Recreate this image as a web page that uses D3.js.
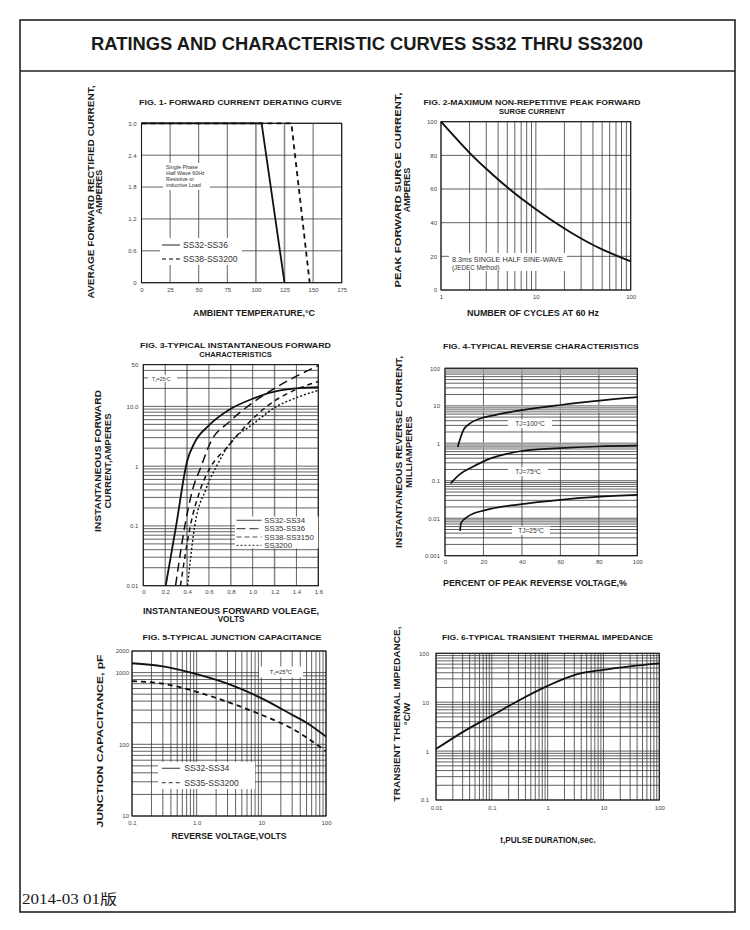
<!DOCTYPE html>
<html><head><meta charset="utf-8">
<script src="https://cdn.jsdelivr.net/npm/d3@7"></script>
<style>
body{margin:0;background:#fff}
text{font-family:"Liberation Sans",Arial,Helvetica,sans-serif}
</style>
</head><body>
<svg id="c" width="750" height="930"></svg>
<script>
// ---------------- DATA ----------------
// Fig 1 – forward current derating curve
const fig1XTicks = [0, 25, 50, 75, 100, 125, 150, 175];
const fig1YTicks = [0, 0.6, 1.2, 1.8, 2.4, 3.0];
const fig1YLabels = ["0", "0.6", "1.2", "1.8", "2.4", "3.0"];
const fig1Ss32Temp = [0, 105, 125];
const fig1Ss32Amp = [3.0, 3.0, 0];
const fig1Ss38Temp = [0, 131, 147];
const fig1Ss38Amp = [3.0, 3.0, 0];

// Fig 2 – peak forward surge current
const fig2XTicks = [1, 10, 100];
const fig2YTicks = [0, 20, 40, 60, 80, 100];
const fig2Cycles = [1, 2, 3, 5, 10, 20, 30, 50, 100];
const fig2Amps = [100, 81.5, 72, 61, 48, 36.5, 30.6, 24.1, 17];

// Fig 3 – instantaneous forward characteristics
const fig3XTicks = [0, 0.2, 0.4, 0.6, 0.8, 1.0, 1.2, 1.4, 1.6];
const fig3XLabels = ["0", "0.2", "0.4", "0.6", "0.8", "1.0", "1.2", "1.4", "1.6"];
const fig3YTicks = [0.01, 0.1, 1, 10, 50];
const fig3YLabels = ["0.01", "0.1", "1", "10.0", "50"];
const fig3Ss32V = [0.205, 0.30, 0.40, 0.47, 0.60, 0.80, 1.00, 1.25, 1.60];
const fig3Ss32I = [0.01, 0.1, 1.2, 2.5, 4.8, 9.1, 13.4, 18.5, 21];
const fig3Ss35V = [0.295, 0.38, 0.45, 0.53, 0.60, 0.80, 1.00, 1.20, 1.40, 1.60];
const fig3Ss35I = [0.01, 0.1, 0.4, 1, 2.2, 5.8, 11.5, 20, 32, 48];
const fig3Ss38V = [0.34, 0.43, 0.52, 0.62, 0.76, 0.95, 1.13, 1.42, 1.60];
const fig3Ss38I = [0.01, 0.1, 0.4, 1, 2, 5, 10, 20, 26];
const fig3Ss3200V = [0.405, 0.47, 0.57, 0.67, 0.80, 1.00, 1.22, 1.40, 1.60];
const fig3Ss3200I = [0.01, 0.1, 0.4, 1, 2.5, 5, 10, 14, 18.5];
const fig3Series = ["SS32-SS34", "SS35-SS36", "SS38-SS3150", "SS3200"];

// Fig 4 – reverse characteristics
const fig4XTicks = [0, 20, 40, 60, 80, 100];
const fig4YTicks = [0.001, 0.01, 0.1, 1, 10, 100];
const fig4YLabels = ["0.001", "0.01", "0.1", "1", "10", "100"];
const fig4T100Pct = [6.6, 9.5, 13, 18, 27, 39, 60, 79, 100];
const fig4T100mA = [0.8, 2.2, 3.4, 4.5, 5.8, 7.5, 10.5, 13.5, 17];
const fig4T75Pct = [2.9, 7.8, 14.7, 21.7, 32, 40.7, 60, 79, 100];
const fig4T75mA = [0.085, 0.15, 0.24, 0.36, 0.52, 0.63, 0.74, 0.82, 0.86];
const fig4T25Pct = [7.8, 8.4, 12, 21, 39, 60, 79, 100];
const fig4T25mA = [0.0046, 0.0075, 0.0112, 0.0165, 0.0235, 0.031, 0.037, 0.042];
const fig4Labels = ["TJ=100ºC", "TJ=75ºC", "TJ=25ºC"];

// Fig 5 – junction capacitance
const fig5XTicks = [0.1, 1, 10, 100];
const fig5XLabels = ["0.1", "1.0", "10", "100"];
const fig5YTicks = [10, 100, 1000, 2000];
const fig5YLabels = ["10", "100", "1000", "2000"];
const fig5Ss32V = [0.1, 0.3, 1, 3, 10, 30, 50, 100];
const fig5Ss32C = [1350, 1220, 950, 700, 440, 257, 200, 128];
const fig5Ss35V = [0.1, 0.3, 1, 3, 10, 30, 100];
const fig5Ss35C = [760, 700, 540, 390, 258, 165, 80];
const fig5Series = ["SS32-SS34", "SS35-SS3200"];

// Fig 6 – transient thermal impedance
const fig6XTicks = [0.01, 0.1, 1, 10, 100];
const fig6XLabels = ["0.01", "0.1", "1", "10", "100"];
const fig6YTicks = [0.1, 1, 10, 100];
const fig6YLabels = ["0.1", "1", "10", "100"];
const fig6T = [0.01, 0.031, 0.1, 0.31, 1, 3.3, 10, 30, 100];
const fig6Z = [1.1, 2.5, 5.3, 11, 21.6, 37, 46, 54, 62];

// ---------------- DRAWING ----------------
const svg = d3.select("#c");
svg.append("rect").attr("width", 750).attr("height", 930).attr("fill", "#fff");

const INK = "#1a1a1a";
const GRID = "#3a3a3a";

function txt(x, cy, s, size, o = {}) {
  const t = svg.append("text")
    .attr("x", x).attr("y", cy + 0.36 * size)
    .attr("font-size", size)
    .attr("font-weight", o.bold ? "bold" : "normal")
    .attr("text-anchor", o.anchor || "middle")
    .attr("fill", o.fill || INK)
    .text(s);
  if (o.len) t.attr("textLength", o.len).attr("lengthAdjust", "spacingAndGlyphs");
  if (o.family) t.style("font-family", o.family);
  return t;
}
function vtxt(cx, cy, s, size, o = {}) {
  const b = cx + 0.36 * size;
  const t = svg.append("text")
    .attr("transform", `translate(${b},${cy}) rotate(-90)`)
    .attr("font-size", size)
    .attr("font-weight", "bold")
    .attr("text-anchor", "middle")
    .attr("fill", INK)
    .text(s);
  if (o.len) t.attr("textLength", o.len).attr("lengthAdjust", "spacingAndGlyphs");
  return t;
}

function panel(cfg) {
  const g = svg.append("g");
  const { x, y } = cfg;
  const [x0, x1] = x.range();
  const [y0, y1] = y.range(); // y0 bottom, y1 top
  g.selectAll("line.vg").data(cfg.xGrid).join("line")
    .attr("x1", d => x(d)).attr("x2", d => x(d))
    .attr("y1", y0).attr("y2", y1)
    .attr("stroke", d => (cfg.xGridColor ? cfg.xGridColor(d) : GRID))
    .attr("stroke-width", d => (cfg.xGridWidth ? cfg.xGridWidth(d) : 0.8));
  g.selectAll("line.hg").data(cfg.yGrid).join("line")
    .attr("x1", x0).attr("x2", x1)
    .attr("y1", d => y(d)).attr("y2", d => y(d))
    .attr("stroke", d => (cfg.yGridColor ? cfg.yGridColor(d) : GRID))
    .attr("stroke-width", d => (cfg.yGridWidth ? cfg.yGridWidth(d) : 0.8));
  g.append("rect").attr("x", x0).attr("y", y1)
    .attr("width", x1 - x0).attr("height", y0 - y1)
    .attr("fill", "none").attr("stroke", INK).attr("stroke-width", 1.1);
  const ax = g.append("g").attr("transform", `translate(0,${y0})`)
    .call(d3.axisBottom(x).tickValues(cfg.xTicks).tickSize(0).tickPadding(cfg.xPad || 4)
      .tickFormat((d, i) => cfg.xLabels ? cfg.xLabels[i] : d));
  const ay = g.append("g").attr("transform", `translate(${x0},0)`)
    .call(d3.axisLeft(y).tickValues(cfg.yTicks).tickSize(0).tickPadding(cfg.yPad || 4)
      .tickFormat((d, i) => cfg.yLabels ? cfg.yLabels[i] : d));
  [ax, ay].forEach(a => {
    a.select(".domain").remove();
    a.selectAll("text").attr("font-size", 6).attr("fill", "#444")
      .style("font-family", '"Liberation Sans",Arial,sans-serif');
  });
  return g;
}

function curve(g, x, y, xs, ys, o = {}) {
  const pts = xs.map((v, i) => [v, ys[i]]);
  const line = d3.line().x(d => x(d[0])).y(d => y(d[1]))
    .curve(o.linear ? d3.curveLinear : d3.curveMonotoneX);
  g.append("path").attr("d", line(pts)).attr("fill", "none")
    .attr("stroke", o.color || "#111").attr("stroke-width", o.w || 1.6)
    .attr("stroke-dasharray", o.dash || null)
    .attr("stroke-linecap", "butt").attr("stroke-linejoin", "round");
}

// outer frame
svg.append("rect").attr("x", 20).attr("y", 20).attr("width", 715).attr("height", 892)
  .attr("fill", "none").attr("stroke", "#222").attr("stroke-width", 1.6);
svg.append("line").attr("x1", 20).attr("x2", 735).attr("y1", 71).attr("y2", 71)
  .attr("stroke", "#222").attr("stroke-width", 1.6);
txt(367, 44, "RATINGS AND CHARACTERISTIC CURVES SS32 THRU SS3200", 18, { bold: true, len: 552 });
txt(22, 899, "2014-03 01版", 14, { anchor: "start", len: 95, family: '"Liberation Serif","Noto Sans CJK SC",serif' });

// ---------- FIG 1 ----------
{
  const x = d3.scaleLinear().domain([0, 175]).range([141.5, 341.7]);
  const y = d3.scaleLinear().domain([0, 3.0]).range([282.7, 123.3]);
  panel({ x, y, xGrid: fig1XTicks, yGrid: fig1YTicks, xTicks: fig1XTicks, yTicks: fig1YTicks,
    yLabels: fig1YLabels, xPad: 5, yPad: 5,
    xGridColor: d => (d === 100 || d === 125) ? "#888" : GRID,
    xGridWidth: d => (d === 100 || d === 125) ? 1.6 : 0.8 });
  const ab = svg.append("g");
  ab.append("rect").attr("x", 163).attr("y", 163).attr("width", 47).attr("height", 27).attr("fill", "#fff");
  ["Single Phase", "Half Wave 60Hz", "Resistive or", "inductive Load"].forEach((s, i) => {
    ab.append("text").attr("x", 166).attr("y", 169 + i * 6.1).attr("font-size", 5.4).attr("fill", "#333").text(s);
  });
  const lg = svg.append("g");
  lg.append("rect").attr("x", 160).attr("y", 238).attr("width", 82).attr("height", 27).attr("fill", "#fff");
  const gc = svg.append("g");
  curve(gc, x, y, fig1Ss32Temp, fig1Ss32Amp, { linear: true, w: 1.8 });
  curve(gc, x, y, fig1Ss38Temp, fig1Ss38Amp, { linear: true, w: 1.8, dash: "5,4" });
  lg.raise();
  lg.append("line").attr("x1", 162).attr("x2", 180).attr("y1", 245).attr("y2", 245).attr("stroke", "#555").attr("stroke-width", 1.3);
  lg.append("line").attr("x1", 162).attr("x2", 180).attr("y1", 259).attr("y2", 259).attr("stroke", "#555").attr("stroke-width", 1.3).attr("stroke-dasharray", "4,3");
  lg.append("text").attr("x", 183).attr("y", 248).attr("font-size", 8.6).attr("fill", "#333").text("SS32-SS36");
  lg.append("text").attr("x", 183).attr("y", 262).attr("font-size", 8.6).attr("fill", "#333").text("SS38-SS3200");

  txt(240.5, 102.5, "FIG. 1- FORWARD CURRENT DERATING CURVE", 7.6, { bold: true, len: 203 });
  vtxt(90.5, 192, "AVERAGE FORWARD RECTIFIED CURRENT,", 9, { len: 213 });
  vtxt(98.8, 192, "AMPERES", 9);
  txt(254, 313.5, "AMBIENT TEMPERATURE,°C", 8.2, { bold: true, len: 122 });
}

// ---------- FIG 2 ----------
{
  const x = d3.scaleLog().domain([1, 100]).range([441, 630.7]);
  const y = d3.scaleLinear().domain([0, 100]).range([290, 121.7]);
  const g = panel({ x, y, xGrid: x.ticks(), yGrid: fig2YTicks, xTicks: fig2XTicks, yTicks: fig2YTicks,
    xLabels: ["1", "10", "100"], xPad: 5, yPad: 4 });
  g.append("rect").attr("x", 449).attr("y", 253).attr("width", 118).attr("height", 18).attr("fill", "#fff");
  g.append("text").attr("x", 452).attr("y", 262).attr("font-size", 6.3).attr("fill", "#333")
    .attr("textLength", 111).attr("lengthAdjust", "spacingAndGlyphs").text("8.3ms SINGLE HALF SINE-WAVE");
  g.append("text").attr("x", 452).attr("y", 270).attr("font-size", 6.3).attr("fill", "#333").text("(JEDEC Method)");
  const line = d3.line().x(d => x(d[0])).y(d => y(d[1])).curve(d3.curveCatmullRom.alpha(0.5));
  g.append("path").attr("d", line(fig2Cycles.map((c, i) => [c, fig2Amps[i]])))
    .attr("fill", "none").attr("stroke", "#111").attr("stroke-width", 1.9);
  txt(532, 102.5, "FIG. 2-MAXIMUM NON-REPETITIVE PEAK FORWARD", 7.6, { bold: true, len: 217 });
  txt(532, 111, "SURGE CURRENT", 7.6, { bold: true });
  vtxt(397.5, 190, "PEAK  FORWARD SURGE CURRENT,", 9, { len: 195 });
  vtxt(406.8, 190, "AMPERES", 9);
  txt(533, 313.5, "NUMBER OF CYCLES AT 60 Hz", 8.2, { bold: true, len: 132 });
}

// ---------- FIG 3 ----------
{
  const x = d3.scaleLinear().domain([0, 1.6]).range([143.3, 318.3]);
  const y = d3.scaleLog().domain([0.01, 50]).range([585.7, 364.6]);
  const gv = d => [0.4, 0.8, 1.2].some(v => Math.abs(v - d) < 1e-6);
  const g = panel({ x, y, xGrid: fig3XTicks, yGrid: y.ticks(), xTicks: fig3XTicks, yTicks: fig3YTicks,
    xLabels: fig3XLabels, yLabels: fig3YLabels, xPad: 4, yPad: 5,
    xGridColor: d => gv(d) ? "#8a8a8a" : GRID,
    xGridWidth: d => gv(d) ? 1.6 : 0.8 });
  g.append("rect").attr("x", 148).attr("y", 375).attr("width", 29).attr("height", 7).attr("fill", "#fff");
  const tj = g.append("text").attr("x", 152).attr("y", 380.5).attr("font-size", 5).attr("fill", "#333");
  tj.append("tspan").text("T");
  tj.append("tspan").attr("font-size", 3.5).attr("dy", 1).text("J");
  tj.append("tspan").attr("dy", -1).text("=25ºC");
  g.append("rect").attr("x", 235).attr("y", 516.5).attr("width", 83.3).attr("height", 32).attr("fill", "#fff");
  const styles = [{ w: 1.8 }, { w: 1.5, dash: "9,5" }, { w: 1.5, dash: "5,4" }, { w: 1.4, dash: "2,2" }];
  curve(g, x, y, fig3Ss32V, fig3Ss32I, styles[0]);
  curve(g, x, y, fig3Ss35V, fig3Ss35I, styles[1]);
  curve(g, x, y, fig3Ss38V, fig3Ss38I, styles[2]);
  curve(g, x, y, fig3Ss3200V, fig3Ss3200I, styles[3]);
  const lgs = [null, "9,4", "5,3", "2,2"];
  fig3Series.forEach((s, i) => {
    const yy = 520.3 + i * 8.35;
    g.append("line").attr("x1", 236.5).attr("x2", 261.5).attr("y1", yy).attr("y2", yy)
      .attr("stroke", "#555").attr("stroke-width", 1.1).attr("stroke-dasharray", lgs[i]);
    g.append("text").attr("x", 264.3).attr("y", yy + 2.8).attr("font-size", 7.8).attr("fill", "#333").text(s);
  });
  txt(235.5, 345.5, "FIG. 3-TYPICAL INSTANTANEOUS FORWARD", 7.6, { bold: true, len: 191 });
  txt(235.5, 354.5, "CHARACTERISTICS", 7.6, { bold: true });
  vtxt(98, 461, "INSTANTANEOUS FORWARD", 9.5, { len: 142 });
  vtxt(108, 461, "CURRENT,AMPERES", 9.5);
  txt(231, 611, "INSTANTANEOUS FORWARD VOLEAGE,", 8.2, { bold: true, len: 176 });
  txt(231, 619.5, "VOLTS", 8.2, { bold: true });
}

// ---------- FIG 4 ----------
{
  const x = d3.scaleLinear().domain([0, 100]).range([445, 637.3]);
  const y = d3.scaleLog().domain([0.001, 100]).range([555.7, 368.3]);
  const grey = d => { const m = d / Math.pow(10, Math.floor(Math.log10(d) + 1e-9)); return m >= 6.5 || Math.abs(m - 1) < 1e-6; };
  const g = panel({ x, y, xGrid: fig4XTicks, yGrid: y.ticks(), xTicks: fig4XTicks, yTicks: fig4YTicks,
    yLabels: fig4YLabels, xPad: 4, yPad: 5,
    xGridColor: d => (d === 40 || d === 80) ? "#999" : GRID,
    xGridWidth: d => (d === 40 || d === 80) ? 1.6 : 0.8,
    yGridColor: d => grey(d) && d >= 0.5 ? "#9a9a9a" : GRID,
    yGridWidth: d => grey(d) && d >= 0.5 ? 1.6 : 0.8 });
  const boxes = [[508, 419.5, 44, 8.5, 530, 424], [508, 467.5, 40, 8.5, 528, 472], [512, 526.5, 38, 8.5, 531, 531]];
  boxes.forEach((b, i) => {
    g.append("rect").attr("x", b[0]).attr("y", b[1]).attr("width", b[2]).attr("height", b[3]).attr("fill", "#fff");
    g.append("text").attr("x", b[4]).attr("y", b[5] + 2.4).attr("font-size", 6.6).attr("text-anchor", "middle")
      .attr("fill", "#333").text(fig4Labels[i]);
  });
  curve(g, x, y, fig4T100Pct, fig4T100mA, { w: 1.7 });
  curve(g, x, y, fig4T75Pct, fig4T75mA, { w: 1.7 });
  curve(g, x, y, fig4T25Pct, fig4T25mA, { w: 1.7 });
  txt(541, 346, "FIG. 4-TYPICAL REVERSE CHARACTERISTICS", 7.6, { bold: true, len: 196 });
  vtxt(399, 452, "INSTANTANEOUS REVERSE CURRENT,", 9.5, { len: 192 });
  vtxt(408.5, 452, "MILLIAMPERES", 9.5);
  txt(535, 583.5, "PERCENT OF PEAK REVERSE VOLTAGE,%", 8.2, { bold: true, len: 184 });
}

// ---------- FIG 5 ----------
{
  const x = d3.scaleLog().domain([0.1, 100]).range([132, 326]);
  const y = d3.scaleLog().domain([10, 2000]).range([816, 651]);
  const g = panel({ x, y, xGrid: x.ticks(), yGrid: y.ticks(), xTicks: fig5XTicks, yTicks: fig5YTicks,
    xLabels: fig5XLabels, yLabels: fig5YLabels, xPad: 5, yPad: 3 });
  g.append("rect").attr("x", 259).attr("y", 666.5).attr("width", 44).attr("height", 11).attr("fill", "#fff");
  const tj = g.append("text").attr("x", 281).attr("y", 674).attr("font-size", 6).attr("text-anchor", "middle").attr("fill", "#333");
  tj.append("tspan").text("T");
  tj.append("tspan").attr("font-size", 4).attr("dy", 1).text("J");
  tj.append("tspan").attr("dy", -1).text("=25ºC");
  g.append("rect").attr("x", 158).attr("y", 762).attr("width", 97).attr("height", 27).attr("fill", "#fff");
  curve(g, x, y, fig5Ss32V, fig5Ss32C, { w: 1.8 });
  curve(g, x, y, fig5Ss35V, fig5Ss35C, { w: 1.8, dash: "5,4" });
  const ld = [null, "4,3"];
  fig5Series.forEach((s, i) => {
    const yy = 768.3 + i * 14.4;
    g.append("line").attr("x1", 161.7).attr("x2", 180).attr("y1", yy).attr("y2", yy)
      .attr("stroke", "#555").attr("stroke-width", 1.2).attr("stroke-dasharray", ld[i]);
    g.append("text").attr("x", 184.3).attr("y", yy + 3).attr("font-size", 8.6).attr("fill", "#333").text(s);
  });
  txt(232, 637, "FIG. 5-TYPICAL JUNCTION CAPACITANCE", 7.6, { bold: true, len: 179 });
  vtxt(100, 741, "JUNCTION CAPACITANCE, pF", 9.5, { len: 173 });
  txt(229, 836, "REVERSE VOLTAGE,VOLTS", 8.2, { bold: true, len: 115 });
}

// ---------- FIG 6 ----------
{
  const x = d3.scaleLog().domain([0.01, 100]).range([436, 659.3]);
  const y = d3.scaleLog().domain([0.1, 100]).range([800, 653.3]);
  const g = panel({ x, y, xGrid: x.ticks(), yGrid: y.ticks(), xTicks: fig6XTicks, yTicks: fig6YTicks,
    xLabels: fig6XLabels, yLabels: fig6YLabels, xPad: 6, yPad: 7 });
  curve(g, x, y, fig6T, fig6Z, { w: 1.8 });
  txt(547.5, 637.5, "FIG. 6-TYPICAL TRANSIENT THERMAL IMPEDANCE", 7.6, { bold: true, len: 211 });
  vtxt(397, 714, "TRANSIENT THERMAL IMPEDANCE,", 9.5, { len: 175 });
  vtxt(406.5, 714, "°C/W", 9.5);
  txt(548, 840, "t,PULSE DURATION,sec.", 8.2, { bold: true });
}
</script>
</body></html>
